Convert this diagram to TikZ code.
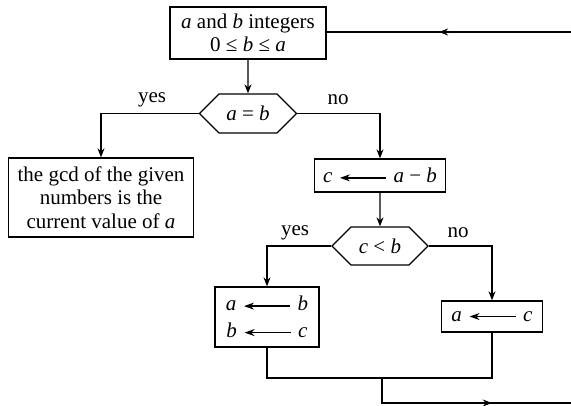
\documentclass[tikz,border=0pt]{standalone}
\usepackage{fontspec}
\setmainfont{Liberation Serif}
\usetikzlibrary{arrows.meta,shapes.symbols,decorations.markings}
\newcommand{\assignarrow}{\hspace{7pt}\tikz[baseline=-0.5ex]\draw[line width=1.3pt,-{Stealth[length=10pt,width=7pt]}] (46pt,0) -- (0,0);\hspace{7pt}}

\begin{document}
\begin{tikzpicture}[x=1pt,y=1pt,yscale=-1,
  every node/.style={font=\fontsize{21}{23.5}\selectfont},
  box/.style={draw,line width=1.3pt,align=center,inner sep=0pt},
  hexa/.style={draw,line width=1.3pt,shape=signal,signal to=west and east,signal from=nowhere,signal pointer angle=90,inner sep=0pt},
  flow/.style={line width=1.3pt},
  arr/.style={flow,-{Stealth[length=9pt,width=7pt]}},
  midarr/.style={flow,postaction={decorate},decoration={markings,mark=at position #1 with {\arrow{Stealth[length=9pt,width=7pt]}}}}
]
\useasboundingbox (0,0) rectangle (571,406);

% Boxes and tests
\node[box,minimum width=156pt,minimum height=52pt] (start) at (248,33) {\textit{a} and \textit{b} integers\\0 ≤ \textit{b} ≤ \textit{a}};
\node[hexa,minimum width=97pt,minimum height=39pt] (eq) at (248,113.5) {\textit{a} = \textit{b}};
\node[box,minimum width=185pt,minimum height=79pt] (gcd) at (101,197.5) {the gcd of the given\\numbers is the\\current value of \textit{a}};
\node[box,minimum width=131pt,minimum height=33pt] (sub) at (380,175.5) {\textit{c}\assignarrow\textit{a} − \textit{b}};
\node[hexa,minimum width=96pt,minimum height=38pt] (lt) at (380,246) {\textit{c} < \textit{b}};
\node[box,minimum width=104pt,minimum height=60pt] (swap) at (267,317) {\textit{a}\assignarrow\textit{b}\\[3pt]\textit{b}\assignarrow\textit{c}};
\node[box,minimum width=101pt,minimum height=31pt] (set) at (492,316.5) {\textit{a}\assignarrow\textit{c}};

% Branch labels
\node (yes1) at (152,100) {yes};
\node (no1) at (338,100) {no};
\node (yes2) at (295,233) {yes};
\node (no2) at (458,233) {no};

% Loop ends
\coordinate (join) at (382,378);
\coordinate (loopout) at (571,403);
\coordinate (loopin) at (571,32);

% Connectors
\draw[arr] (start) -- (eq);
\draw[arr] (eq.west) -| (gcd.north);
\draw[arr] (eq.east) -| (sub.north);
\draw[arr] (sub) -- (lt);
\draw[arr] (lt.west) -| (swap.north);
\draw[arr] (lt.east) -| (set.north);
\draw[flow] (swap.south) |- (join) -| (set.south);
\draw[midarr=0.63] (join) |- (loopout);
\draw[midarr=0.54] (loopin) -- (loopin -| start.east);

\end{tikzpicture}
\end{document}
